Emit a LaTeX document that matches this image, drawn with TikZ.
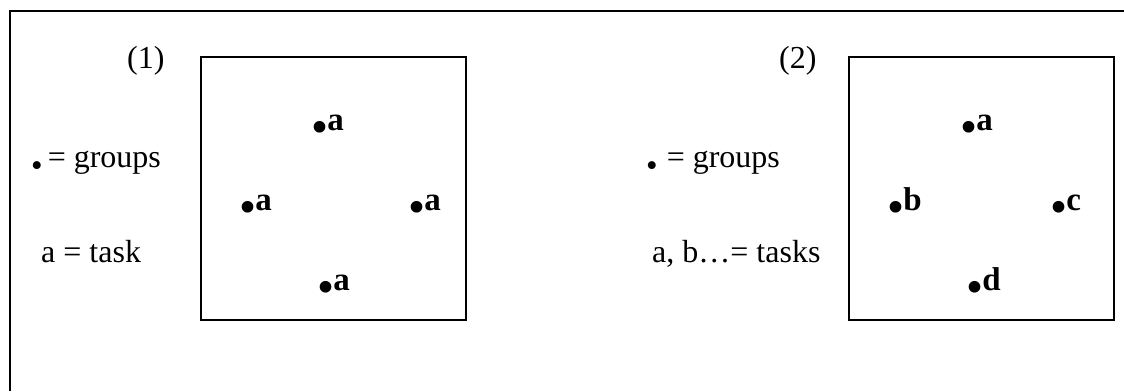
\documentclass[tikz,border=0pt]{standalone}
\usepackage{fontspec}
\setmainfont{Liberation Serif}
\usetikzlibrary{positioning}
\newcommand{\grpdot}{{\fontsize{43}{43}\selectfont\raisebox{-11.5pt}{•}}}
\newcommand{\keydot}{{\fontsize{33}{33}\selectfont\raisebox{-9pt}{•}}}

\begin{document}
\begin{tikzpicture}[x=1pt,y=-1pt,
  every node/.style={inner sep=0pt,font=\fontsize{32}{36}\selectfont},
  frame/.style={draw,line width=1.6pt,minimum width=265pt,minimum height=263pt,anchor=north west},
  txt/.style={anchor=base west},
  task/.style={anchor=base west,font=\fontsize{33}{38}\selectfont\bfseries}]
\useasboundingbox (0,0) rectangle (1124,391);
\draw[line width=1.6pt] (10,391) -- (10,11) -- (1124,11);
% panel (1)
\node[txt] (num1) at (127,68) {(1)};
\node[txt] (grp1) at (31,167) {\keydot\hspace{5pt}= groups};
\node[txt] (tsk1) at (41,262) {a = task};
\node[frame] (box1) at (200,56) {};
\node[task] (a1) at (312,130) {\grpdot a};
\node[task] (a2) at (240,210) {\grpdot a};
\node[task] (a3) at (409,210) {\grpdot a};
\node[task] (a4) at (318,290) {\grpdot a};
% panel (2)
\node[txt] (num2) at (779,68) {(2)};
\node[txt] (grp2) at (646,167) {\keydot\hspace{9pt}= groups};
\node[txt] (tsk2) at (652,262) {a, b…= tasks};
\node[frame] (box2) at (848,56) {};
\node[task] (b1) at (961,130) {\grpdot a};
\node[task] (b2) at (888,210) {\grpdot b};
\node[task] (b3) at (1051,210) {\grpdot c};
\node[task] (b4) at (967,290) {\grpdot d};
\end{tikzpicture}
\end{document}
